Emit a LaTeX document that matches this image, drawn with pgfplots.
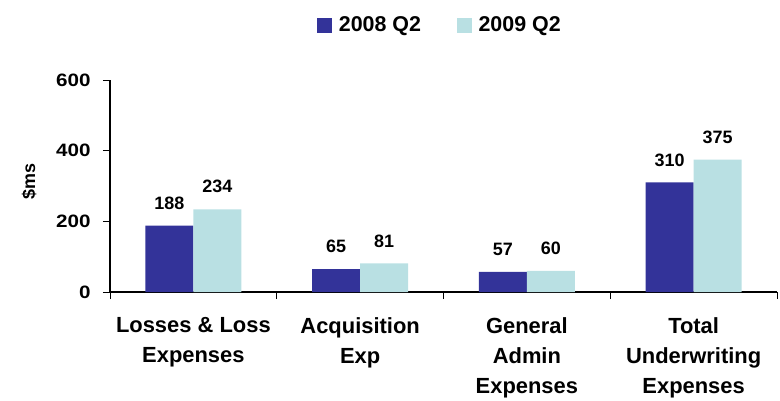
\documentclass[border=0pt]{standalone}
\usepackage{pgfplots}
\pgfplotsset{compat=1.18}
\usepackage{fontspec}
\setmainfont{Liberation Sans}
\newfontfamily\widefont[FakeStretch=1.15]{Liberation Sans}
\definecolor{darkbar}{RGB}{51,51,153}
\definecolor{lightbar}{RGB}{185,224,227}
\begin{document}
\begin{tikzpicture}
\useasboundingbox (-110bp,-109bp) rectangle (670bp,292bp);
\begin{axis}[
  scale only axis, width=667bp, height=212bp,
  xmin=-0.5, xmax=3.5, ymin=0, ymax=600,
  axis x line*=bottom, axis y line*=left,
  axis line style={-, line width=1.2pt},
  ytick={0,200,400,600},
  xtick={-0.5,0.5,1.5,2.5,3.5},
  x tick label as interval,
  xticklabels={{Losses \& Loss\\Expenses},{Acquisition\\Exp},{General\\Admin\\Expenses},{Total\\Underwriting\\Expenses}},
  xticklabel style={align=center, font=\bfseries\fontsize{22}{30}\selectfont, yshift=-15bp},
  yticklabel style={font=\widefont\bfseries\fontsize{18}{20}\selectfont, xshift=-9bp},
  /pgf/number format/assume math mode=true,
  tick align=outside, major tick length=7bp,
  tick style={black, line width=1pt},
  ylabel={\$ms},
  ylabel style={at={(axis description cs:-0.1214,0.521)}, anchor=center, font=\bfseries\fontsize{18}{20}\selectfont},
  ybar=0pt, bar width=48bp,
  nodes near coords,
  nodes near coords style={font=\bfseries\fontsize{18}{20}\selectfont, anchor=south, inner sep=0pt, yshift=16bp, text=black},
  legend style={at={(0.4948,1.259)}, anchor=center, draw=none, legend columns=2,
     font=\bfseries\fontsize{21.5}{24}\selectfont,
     /tikz/every odd column/.append style={column sep=4.5bp},
     /tikz/every even column/.append style={column sep=34bp}},
  legend image code/.code={\fill[#1] (0bp,-7.5bp) rectangle (15bp,7.5bp);},
]
\addplot[fill=darkbar, draw=none] coordinates {(0,188) (1,65) (2,57) (3,310)};
\addplot[fill=lightbar, draw=none] coordinates {(0,234) (1,81) (2,60) (3,375)};
\legend{2008 Q2, 2009 Q2}
\end{axis}
\end{tikzpicture}
\end{document}
